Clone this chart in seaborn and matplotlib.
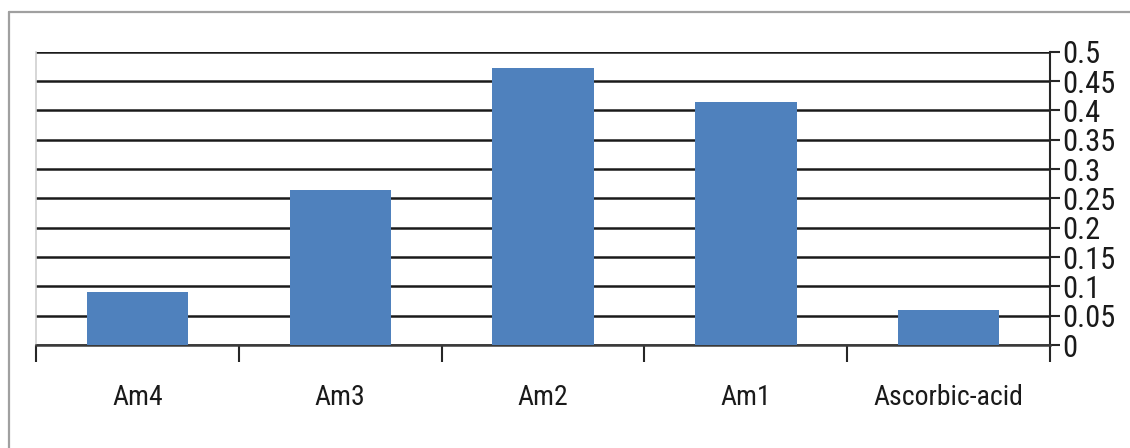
import matplotlib
matplotlib.use("Agg")
import matplotlib.pyplot as plt
from matplotlib.lines import Line2D
from matplotlib.ticker import FixedLocator
from matplotlib import font_manager
import seaborn as sns
import pandas as pd

# Absorbance readings per sample
samples = ["Am4", "Am3", "Am2", "Am1", "Ascorbic-acid"]
absorbance = [0.090, 0.264, 0.472, 0.414, 0.059]
ytick_values = [0, 0.05, 0.1, 0.15, 0.2, 0.25, 0.3, 0.35, 0.4, 0.45, 0.5]
ytick_labels = ["0", "0.05", "0.1", "0.15", "0.2", "0.25", "0.3", "0.35",
                "0.4", "0.45", "0.5"]

sns.set_theme(style="white")

# pick the narrowest installed sans family
names = {f.name for f in font_manager.fontManager.ttflist}
narrow = [n for n in ["Liberation Sans Narrow", "Roboto Condensed",
                      "Open Sans Condensed", "Noto Sans Condensed", "Lato",
                      "Liberation Sans"] if n in names]
plt.rcParams["font.family"] = narrow[:1] + ["DejaVu Sans"]

W, H = 1130, 448
fig = plt.figure(figsize=(W / 100, H / 100), dpi=100)
fig.patch.set_facecolor("white")

# plot area in pixel terms
left, right, top, bottom = 36, 1050, 51.7, 345
ax = fig.add_axes([left / W, 1 - bottom / H, (right - left) / W, (bottom - top) / H])

df = pd.DataFrame({"sample": samples, "absorbance": absorbance})
sns.barplot(data=df, x="sample", y="absorbance", color="#4F81BD",
            saturation=1, width=0.5, ax=ax, zorder=3, linewidth=0,
            edgecolor="none")

ax.set_xlim(-0.5, len(samples) - 0.5)
ax.set_ylim(0, 0.5)
ax.set_xlabel("")
ax.set_ylabel("")

# value axis on the right
ax.yaxis.tick_right()
ax.set_yticks(ytick_values)
ax.set_yticklabels(ytick_labels)
ax.tick_params(axis="y", which="major", direction="out", length=7.5, width=1.5,
               color="#262626", pad=1.5, labelsize=22, labelcolor="#1a1a1a",
               right=True, left=False)

# category axis: labels centred, tick marks at category boundaries
ax.xaxis.set_minor_locator(FixedLocator([i - 0.5 for i in range(len(samples) + 1)]))
ax.tick_params(axis="x", which="major", length=0, pad=28, labelsize=20,
               labelcolor="#1a1a1a")
ax.tick_params(axis="x", which="minor", bottom=True, direction="out", length=12.5,
               width=1.5, color="#262626")

# horizontal gridlines behind the bars
ax.yaxis.grid(True, color="#1a1a1a", linewidth=1.8, zorder=0)
ax.xaxis.grid(False)
ax.set_axisbelow(True)

ax.spines["top"].set_visible(False)
ax.spines["bottom"].set_color("#3a3a3a")
ax.spines["bottom"].set_linewidth(1.8)
ax.spines["right"].set_color("#262626")
ax.spines["right"].set_linewidth(1.5)
ax.spines["left"].set_color("#d0d0d0")
ax.spines["left"].set_linewidth(1.2)

# chart frame
x0, y0 = 8.5 / W, 1 - 12 / H
fig.add_artist(Line2D([x0, 1.0], [y0, y0], transform=fig.transFigure,
                      color="#a0a0a0", linewidth=1.6))
fig.add_artist(Line2D([x0, x0], [y0, 0.0], transform=fig.transFigure,
                      color="#a0a0a0", linewidth=1.6))

fig.savefig("out.png", dpi=100, facecolor="white")
